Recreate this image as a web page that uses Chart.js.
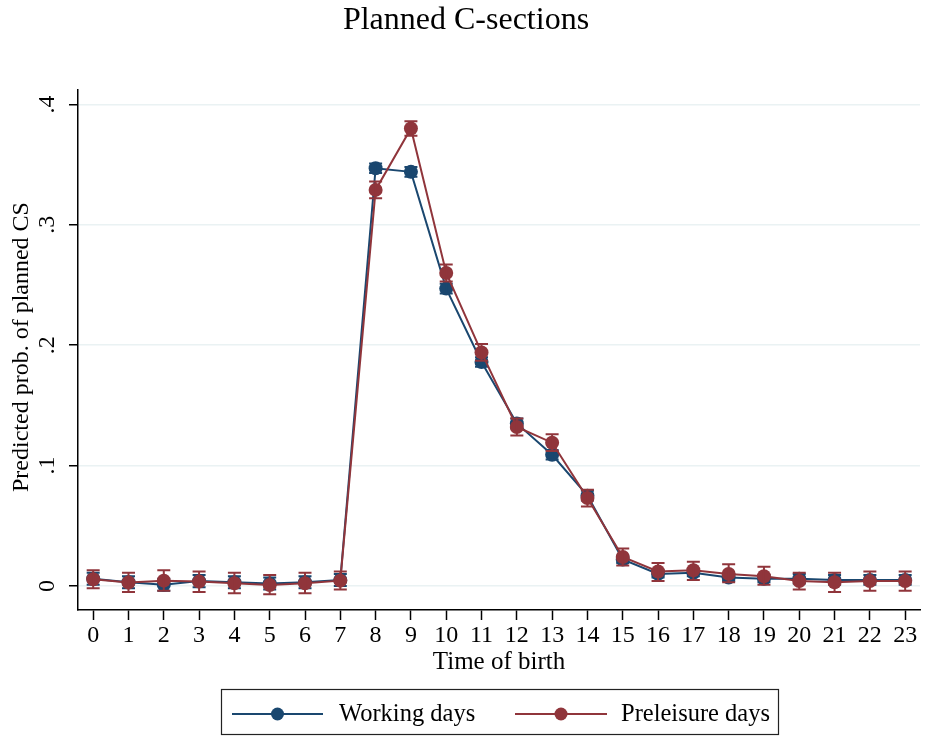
<!DOCTYPE html>
<html>
<head>
<meta charset="utf-8">
<title>Planned C-sections</title>
<script src="https://cdn.jsdelivr.net/npm/chart.js@4"></script>
<style>
  html, body { margin: 0; padding: 0; background: #ffffff; }
  #wrap { width: 927px; height: 736px; position: relative; }
</style>
</head>
<body>
<div id="wrap"><canvas id="c" width="927" height="736"></canvas></div>
<script>
// Hour of birth (0-23)
const hours = [0, 1, 2, 3, 4, 5, 6, 7, 8, 9, 10, 11, 12, 13, 14, 15, 16, 17, 18, 19, 20, 21, 22, 23];

// Predicted probability of a planned C-section, working days
const working     = [0.006, 0.003, 0.001, 0.004, 0.003, 0.002, 0.003, 0.005, 0.347, 0.344, 0.247, 0.186,
                     0.135, 0.109, 0.075, 0.022, 0.010, 0.011, 0.007, 0.006, 0.006, 0.005, 0.005, 0.005];
const workingLow  = [0.001, -0.002, -0.004, -0.001, -0.002, -0.003, -0.002, 0.000, 0.343, 0.340, 0.243, 0.182,
                     0.131, 0.105, 0.071, 0.019, 0.007, 0.008, 0.004, 0.003, 0.002, 0.001, 0.001, 0.001];
const workingHigh = [0.011, 0.008, 0.006, 0.009, 0.008, 0.007, 0.008, 0.010, 0.351, 0.348, 0.251, 0.190,
                     0.139, 0.113, 0.079, 0.025, 0.013, 0.014, 0.010, 0.009, 0.010, 0.009, 0.009, 0.009];

// Predicted probability of a planned C-section, days before a holiday
const preleisure     = [0.0056, 0.0028, 0.0044, 0.0036, 0.0022, 0.0008, 0.0022, 0.0044, 0.329, 0.380, 0.260, 0.194,
                        0.132, 0.119, 0.073, 0.024, 0.012, 0.013, 0.010, 0.008, 0.004, 0.003, 0.004, 0.004];
const preleisureLow  = [-0.002, -0.005, -0.004, -0.005, -0.006, -0.007, -0.006, -0.003, 0.322, 0.374, 0.253, 0.187,
                        0.125, 0.112, 0.066, 0.017, 0.004, 0.005, 0.003, 0.001, -0.003, -0.005, -0.004, -0.004];
const preleisureHigh = [0.013, 0.011, 0.013, 0.012, 0.011, 0.009, 0.011, 0.012, 0.336, 0.386, 0.267, 0.201,
                        0.139, 0.126, 0.080, 0.031, 0.019, 0.020, 0.018, 0.016, 0.011, 0.011, 0.012, 0.012];

// Axis ticks
const xTicks = hours;
const yTicks = [0, 0.1, 0.2, 0.3, 0.4];
const yTickLabels = ['0', '.1', '.2', '.3', '.4'];

const NAVY = 'rgb(26,71,111)';
const MAROON = 'rgb(144,53,59)';
const SERIF = '"Liberation Serif", "Times New Roman", serif';

// Vertical capped confidence intervals, drawn right after each series
const errorBars = {
  id: 'errorBars',
  afterDatasetDraw(chart, args) {
    const ds = chart.data.datasets[args.index];
    if (!ds.low) return;
    const { ctx, scales: { x, y } } = chart;
    ctx.save();
    ctx.strokeStyle = ds.borderColor;
    ctx.lineWidth = 2;
    const cap = 6.5;
    ds.data.forEach((p, i) => {
      const px = x.getPixelForValue(p.x);
      const lo = y.getPixelForValue(ds.low[i]);
      const hi = y.getPixelForValue(ds.high[i]);
      ctx.beginPath();
      ctx.moveTo(px, lo); ctx.lineTo(px, hi);
      ctx.moveTo(px - cap, lo); ctx.lineTo(px + cap, lo);
      ctx.moveTo(px - cap, hi); ctx.lineTo(px + cap, hi);
      ctx.stroke();
    });
    ctx.restore();
  }
};

// Title, axis titles, rotated y tick labels and the boxed legend
const decorations = {
  id: 'decorations',
  afterDraw(chart) {
    const { ctx, chartArea, scales: { y } } = chart;
    ctx.save();
    ctx.fillStyle = '#000';

    ctx.font = '32px ' + SERIF;
    ctx.textAlign = 'center';
    ctx.textBaseline = 'alphabetic';
    ctx.fillText('Planned C-sections', 466, 29);

    ctx.font = '25px ' + SERIF;
    ctx.fillText('Time of birth', (chartArea.left + chartArea.right) / 2, 669);

    ctx.save();
    ctx.translate(22, 347);
    ctx.rotate(-Math.PI / 2);
    ctx.font = '24px ' + SERIF;
    ctx.textBaseline = 'middle';
    ctx.fillText('Predicted prob. of planned CS', 0, 0);
    ctx.restore();

    ctx.font = '24px ' + SERIF;
    yTicks.forEach((v, i) => {
      ctx.save();
      ctx.translate(48, y.getPixelForValue(v));
      ctx.rotate(-Math.PI / 2);
      ctx.textAlign = 'center';
      ctx.textBaseline = 'middle';
      ctx.fillText(yTickLabels[i], 0, 0);
      ctx.restore();
    });

    // legend
    ctx.strokeStyle = '#222';
    ctx.lineWidth = 1.2;
    ctx.strokeRect(221.5, 689.5, 557, 45);
    const items = [
      { label: chart.data.datasets[0].label, color: NAVY, x0: 232, x1: 323, tx: 339 },
      { label: chart.data.datasets[1].label, color: MAROON, x0: 515, x1: 607, tx: 621 }
    ];
    const ly = 714;
    ctx.font = '24.5px ' + SERIF;
    items.forEach(it => {
      ctx.strokeStyle = it.color;
      ctx.lineWidth = 2;
      ctx.beginPath();
      ctx.moveTo(it.x0, ly); ctx.lineTo(it.x1, ly);
      ctx.stroke();
      ctx.fillStyle = it.color;
      ctx.beginPath();
      ctx.arc((it.x0 + it.x1) / 2, ly, 6.5, 0, Math.PI * 2);
      ctx.fill();
      ctx.fillStyle = '#000';
      ctx.textAlign = 'left';
      ctx.textBaseline = 'middle';
      ctx.fillText(it.label, it.tx, ly + 1);
    });
    ctx.restore();
  }
};

const toPoints = vals => hours.map((h, i) => ({ x: h, y: vals[i] }));

new Chart(document.getElementById('c'), {
  type: 'line',
  data: {
    datasets: [
      {
        label: 'Working days',
        data: toPoints(working),
        low: workingLow,
        high: workingHigh,
        borderColor: NAVY,
        backgroundColor: NAVY,
        pointBackgroundColor: NAVY,
        borderWidth: 2,
        pointRadius: 7,
        pointBorderWidth: 0,
        tension: 0,
        order: 1
      },
      {
        label: 'Preleisure days',
        data: toPoints(preleisure),
        low: preleisureLow,
        high: preleisureHigh,
        borderColor: MAROON,
        backgroundColor: MAROON,
        pointBackgroundColor: MAROON,
        borderWidth: 2,
        pointRadius: 7,
        pointBorderWidth: 0,
        tension: 0,
        order: 0
      }
    ]
  },
  options: {
    responsive: false,
    animation: false,
    devicePixelRatio: 1,
    layout: { padding: { top: 90, left: 0, right: 2, bottom: 66 } },
    plugins: { legend: { display: false }, title: { display: false }, tooltip: { enabled: false } },
    scales: {
      x: {
        type: 'linear',
        min: -0.43,
        max: 23.42,
        afterBuildTicks: s => { s.ticks = xTicks.map(v => ({ value: v })); },
        afterFit: s => { s.height = 60; },
        grid: { drawOnChartArea: false, drawTicks: true, tickLength: 10, tickColor: '#000', tickWidth: 1.5 },
        border: { display: true, color: '#000', width: 1.5 },
        ticks: { color: '#000', font: { family: SERIF, size: 24 }, padding: 1, maxRotation: 0, autoSkip: false,
                 callback: v => String(v) }
      },
      y: {
        type: 'linear',
        min: -0.02,
        max: 0.412,
        afterBuildTicks: s => { s.ticks = yTicks.map(v => ({ value: v })); },
        afterFit: s => { s.width = 78; },
        grid: { color: 'rgb(234,242,243)', lineWidth: 1.5, drawTicks: true, tickLength: 9, tickColor: '#000', tickWidth: 1.5 },
        border: { display: true, color: '#000', width: 1.5 },
        ticks: { display: false }
      }
    }
  },
  plugins: [errorBars, decorations]
});
</script>
</body>
</html>
